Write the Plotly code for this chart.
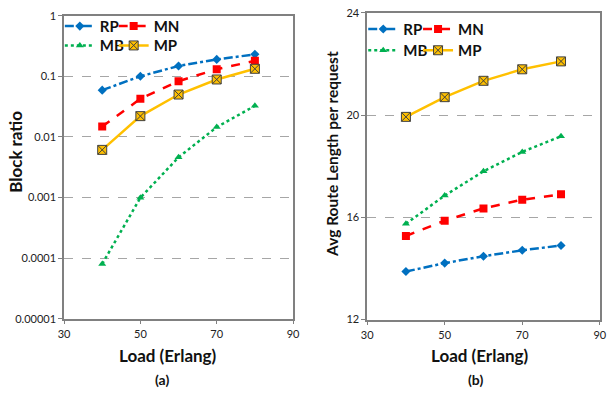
import plotly.graph_objects as go

loads = [40, 50, 60, 70, 80]

# (a) Block ratio
block_rp = [0.059, 0.100, 0.148, 0.19, 0.23]
block_mn = [0.0148, 0.0425, 0.083, 0.131, 0.18]
block_mb = [0.00008, 0.00099, 0.0046, 0.0145, 0.0325]
block_mp = [0.0061, 0.022, 0.050, 0.0886, 0.133]

# (b) Avg route length
route_rp = [13.88, 14.21, 14.48, 14.71, 14.90]
route_mn = [15.27, 15.87, 16.35, 16.69, 16.90]
route_mb = [15.75, 16.85, 17.80, 18.56, 19.17]
route_mp = [19.93, 20.70, 21.34, 21.79, 22.10]

x_ticks = [30, 50, 70, 90]
a_tickvals = [1e-5, 1e-4, 1e-3, 1e-2, 1e-1, 1]
a_ticktext = ["0.00001", "0.0001", "0.001", "0.01", "0.1", "1"]
b_tickvals = [12, 16, 20, 24]

BLUE = "#0070C0"
RED = "#FF0000"
GREEN = "#00B050"
GOLD = "#FFC000"
FONT = "Lato"

styles = {
    "RP": dict(color=BLUE, dash="dashdot", symbol="diamond", size=7),
    "MN": dict(color=RED, dash="dash", symbol="square", size=8),
    "MB": dict(color=GREEN, dash="dot", symbol="triangle-up", size=7),
    "MP": dict(color=GOLD, dash="solid", symbol="square-x", size=9),
}

W, H = 611, 393
def px(x): return x / W
def py(y): return 1 - y / H

# legend placement (pixels): name -> (x, y) for each panel
leg_pos_a = {"RP": (55, 20), "MB": (55, 40), "MN": (110, 20), "MP": (110, 40)}
leg_pos_b = {"RP": (365, 23), "MB": (365, 45), "MN": (421, 23), "MP": (421, 45)}

fig = go.Figure()
legends = {}

def add(name, ys, xaxis, yaxis, legend, pos):
    s = styles[name]
    mline = dict(width=1, color="#404040") if name == "MP" else dict(width=0)
    fig.add_trace(go.Scatter(
        x=loads, y=ys, name=name, mode="lines+markers",
        line=dict(color=s["color"], dash=s["dash"], width=2.5),
        marker=dict(symbol=s["symbol"], size=s["size"], color=s["color"], line=mline),
        xaxis=xaxis, yaxis=yaxis, legend=legend,
    ))
    legends[legend] = dict(
        x=px(pos[0]), y=py(pos[1]), xanchor="left", yanchor="middle",
        font=dict(family=FONT, size=15, color="#111", weight="bold"),
        bgcolor="rgba(0,0,0,0)", itemwidth=30, orientation="v",
    )

add("RP", block_rp, "x", "y", "legend", leg_pos_a["RP"])
add("MB", block_mb, "x", "y", "legend2", leg_pos_a["MB"])
add("MN", block_mn, "x", "y", "legend3", leg_pos_a["MN"])
add("MP", block_mp, "x", "y", "legend4", leg_pos_a["MP"])
add("RP", route_rp, "x2", "y2", "legend5", leg_pos_b["RP"])
add("MB", route_mb, "x2", "y2", "legend6", leg_pos_b["MB"])
add("MN", route_mn, "x2", "y2", "legend7", leg_pos_b["MN"])
add("MP", route_mp, "x2", "y2", "legend8", leg_pos_b["MP"])

axis_common = dict(
    showline=True, linecolor="#808080", linewidth=1.5, mirror=True,
    ticks="outside", ticklen=4, tickcolor="#808080",
    tickfont=dict(family=FONT, size=11, color="#222"),
    zeroline=False,
)

fig.update_layout(
    width=W, height=H,
    margin=dict(l=0, r=0, t=0, b=0),
    paper_bgcolor="white", plot_bgcolor="white",
    xaxis=dict(domain=[px(59.3), px(293.3)], range=[30, 90], tickvals=x_ticks,
               showgrid=False, anchor="y", **axis_common),
    yaxis=dict(domain=[py(322.3), py(9)], type="log", range=[-5, 0],
               tickvals=a_tickvals, ticktext=a_ticktext,
               showgrid=True, gridcolor="#A6A6A6", griddash="dash", gridwidth=1,
               anchor="x", **axis_common),
    xaxis2=dict(domain=[px(369), px(606.7)], range=[30, 90], tickvals=x_ticks,
                showgrid=False, anchor="y2", **axis_common),
    yaxis2=dict(domain=[py(323.3), py(6)], range=[12, 24], tickvals=b_tickvals,
                showgrid=True, gridcolor="#A6A6A6", griddash="dash", gridwidth=1,
                anchor="x2", **axis_common),
    showlegend=True,
    **legends,
)

title_font = dict(family=FONT, size=17, color="#111", weight="bold")
ann = [
    dict(text="Load (Erlang)", x=px(166), y=py(360), font=title_font),
    dict(text="Load (Erlang)", x=px(484), y=py(360), font=title_font),
    dict(text="(a)", x=px(159), y=py(385), font=dict(family=FONT, size=14, color="#111", weight="bold")),
    dict(text="(b)", x=px(480), y=py(385), font=dict(family=FONT, size=14, color="#111", weight="bold")),
    dict(text="Block ratio", x=px(9), y=py(150), textangle=-90, font=title_font),
    dict(text="Avg Route Length per request", x=px(333), y=py(152), textangle=-90,
         font=dict(family=FONT, size=15.5, color="#111", weight="bold")),
]
for a in ann:
    fig.add_annotation(xref="paper", yref="paper", showarrow=False,
                       xanchor="center", yanchor="middle", **a)

fig.write_html("out.html", config={"displayModeBar": False},
               post_script="document.body.style.margin='0';")
